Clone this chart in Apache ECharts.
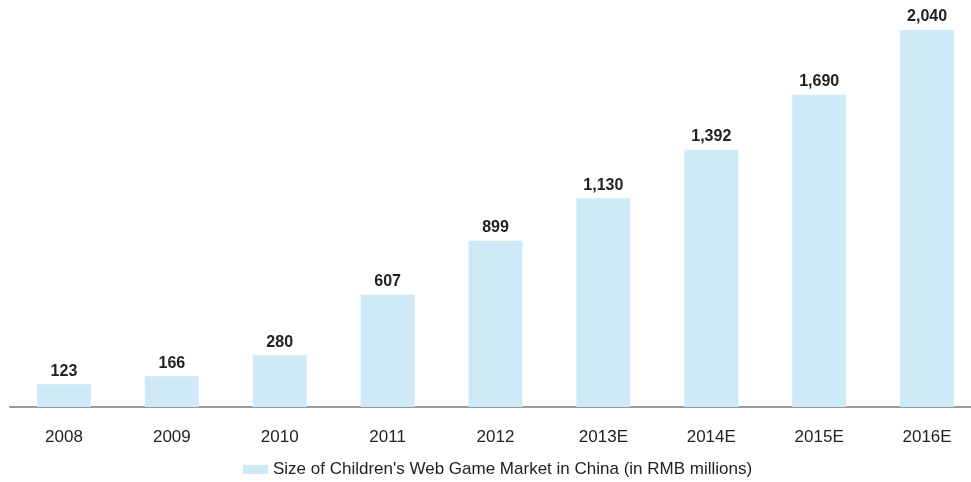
<!DOCTYPE html>
<html>
<head>
<meta charset="utf-8">
<script src="https://cdn.jsdelivr.net/npm/echarts@6/dist/echarts.min.js"></script>
<style>
html,body{margin:0;padding:0;background:#fff;}
#chart{width:971px;height:482px;}
</style>
</head>
<body>
<div id="chart"></div>
<script>
// Market size by year (RMB millions); E = estimate
const years = ['2008', '2009', '2010', '2011', '2012', '2013E', '2014E', '2015E', '2016E'];
const marketSize = [123, 166, 280, 607, 899, 1130, 1392, 1690, 2040];
const seriesName = "Size of Children's Web Game Market in China (in RMB millions)";

const font = 'Liberation Sans, Arial, sans-serif';
const chart = echarts.init(document.getElementById('chart'));
chart.setOption({
  animation: false,
  textStyle: { fontFamily: font },
  grid: { left: 10, width: 971, top: 30, bottom: 75, outerBoundsMode: 'none', containLabel: false },
  legend: {
    bottom: -1,
    left: 238,
    itemWidth: 25,
    itemHeight: 9,
    itemGap: 5,
    icon: 'rect',
    textStyle: { fontSize: 17, color: '#222', fontFamily: font },
    data: [seriesName]
  },
  xAxis: {
    type: 'category',
    data: years,
    axisLine: { lineStyle: { color: '#999', width: 2 } },
    axisTick: { show: false },
    axisLabel: { fontSize: 17, color: '#222', margin: 22, fontFamily: font }
  },
  yAxis: {
    type: 'value',
    min: 0,
    max: 2040,
    show: false,
    splitLine: { show: false }
  },
  series: [{
    name: seriesName,
    type: 'bar',
    data: marketSize,
    barWidth: '50%',
    itemStyle: { color: '#cdeaf6' },
    label: {
      show: true,
      position: 'top',
      distance: 5,
      fontSize: 16,
      fontWeight: 'bold',
      color: '#222',
      fontFamily: font,
      formatter: p => p.value.toLocaleString('en-US')
    }
  }]
});
</script>
</body>
</html>
